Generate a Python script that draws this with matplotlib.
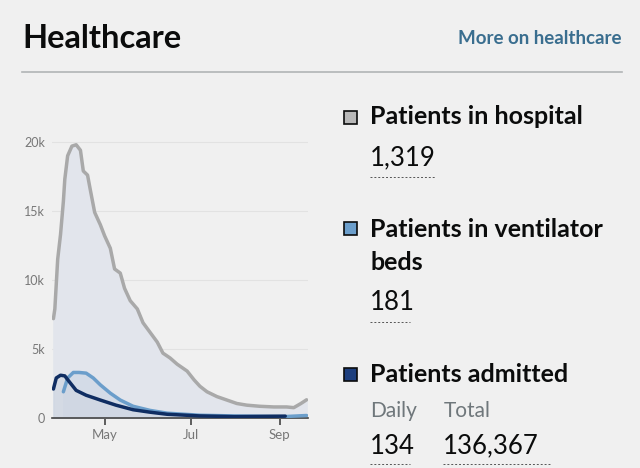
import matplotlib.pyplot as plt
import pandas as pd

# patients in hospital
hosp_dates = ["2020-03-26", "2020-03-27", "2020-03-29", "2020-03-31", "2020-04-02", "2020-04-03",
              "2020-04-05", "2020-04-08", "2020-04-11", "2020-04-14", "2020-04-16", "2020-04-19",
              "2020-04-21", "2020-04-24", "2020-04-28", "2020-05-01", "2020-05-05", "2020-05-08",
              "2020-05-12", "2020-05-15", "2020-05-19", "2020-05-24", "2020-05-28", "2020-06-02",
              "2020-06-07", "2020-06-11", "2020-06-16", "2020-06-21", "2020-06-28", "2020-07-03",
              "2020-07-07", "2020-07-12", "2020-07-19", "2020-07-26", "2020-08-02", "2020-08-09",
              "2020-08-18", "2020-08-28", "2020-09-06", "2020-09-11", "2020-09-16", "2020-09-20"]
hosp_vals = [7200, 7900, 11500, 13300, 15700, 17300, 19000, 19700, 19800, 19400, 17900, 17600,
             16500, 14900, 14000, 13200, 12300, 10800, 10500, 9400, 8500, 7900, 6900, 6200,
             5500, 4700, 4350, 3900, 3400, 2750, 2300, 1900, 1550, 1300, 1050, 930,
             850, 800, 800, 750, 1050, 1319]

# patients in ventilator beds
vent_dates = ["2020-04-02", "2020-04-05", "2020-04-09", "2020-04-13", "2020-04-18", "2020-04-23",
              "2020-04-28", "2020-05-05", "2020-05-12", "2020-05-21", "2020-06-02", "2020-06-14",
              "2020-07-07", "2020-07-31", "2020-09-04", "2020-09-20"]
vent_vals = [1900, 2900, 3300, 3300, 3250, 2900, 2400, 1800, 1300, 850, 550, 350,
             200, 150, 100, 181]

# patients admitted (daily)
adm_dates = ["2020-03-26", "2020-03-28", "2020-03-31", "2020-04-03", "2020-04-06", "2020-04-11",
             "2020-04-18", "2020-04-28", "2020-05-09", "2020-05-21", "2020-06-02", "2020-06-14",
             "2020-07-07", "2020-07-31", "2020-09-05"]
adm_vals = [2100, 2900, 3100, 3050, 2650, 2000, 1650, 1300, 930, 600, 420, 270,
            150, 100, 134]

month_ticks = ["2020-05-01", "2020-07-01", "2020-09-01"]
month_labels = ["May", "Jul", "Sep"]
y_ticks = [0, 5000, 10000, 15000, 20000]
y_labels = ["0", "5k", "10k", "15k", "20k"]

bg = "#f0f0f0"
c_hosp = "#a9a9a9"
c_vent = "#6b9ecb"
c_adm = "#0f2d62"

plt.rcParams['font.family'] = ['Lato', 'DejaVu Sans']
fig = plt.figure(figsize=(6.4, 4.68), dpi=100, facecolor=bg)
W, H = 640, 468

ax = fig.add_axes([52 / W, 1 - 418 / H, 256 / W, 289.8 / H])
ax.set_facecolor(bg)
ax.set_ylim(0, 21000)
ax.set_xlim(pd.Timestamp("2020-03-25"), pd.Timestamp("2020-09-21"))

hd = pd.to_datetime(hosp_dates)
vd = pd.to_datetime(vent_dates)
ad = pd.to_datetime(adm_dates)

ax.fill_between(hd, hosp_vals, color="#e2e5ec", zorder=1)
ax.fill_between(vd, vent_vals, color="#d3dbe7", zorder=2)
ax.fill_between(ad, adm_vals, color="#cfd6e2", alpha=0.7, zorder=2)
ax.plot(hd, hosp_vals, color=c_hosp, lw=2.5, zorder=4, solid_capstyle="round")
ax.plot(vd, vent_vals, color=c_vent, lw=2.5, zorder=5, solid_capstyle="round")
ax.plot(ad, adm_vals, color=c_adm, lw=2.5, zorder=6, solid_capstyle="round")

for s in ["top", "right", "left"]:
    ax.spines[s].set_visible(False)
ax.spines["bottom"].set_color("#444444")
ax.spines["bottom"].set_linewidth(1.2)
ax.set_yticks(y_ticks)
ax.set_yticklabels(y_labels)
ax.tick_params(axis="y", length=0, labelsize=9, labelcolor="#777777", pad=5)
ax.set_xticks(pd.to_datetime(month_ticks))
ax.set_xticklabels(month_labels)
ax.tick_params(axis="x", length=5, width=1.2, color="#444444", labelsize=9.5,
               labelcolor="#777777", pad=3)
ax.grid(axis="y", color="#e2e2e2", lw=0.8, zorder=0)
ax.set_axisbelow(True)

# header
fig.text(22 / W, 1 - 38 / H, "Healthcare", fontsize=23.5, fontweight="bold",
         color="#0b0c0c", va="center", ha="left")
fig.text(622 / W, 1 - 38 / H, "More on healthcare", fontsize=13.5, fontweight="bold",
         color="#3a6e8f", va="center", ha="right")
fig.add_artist(plt.Line2D([22 / W, 622 / W], [1 - 72 / H, 1 - 72 / H], color="#b1b4b6", lw=1.2))

# right panel
def square(y, color):
    fig.patches.append(plt.Rectangle((344 / W, 1 - (y + 6.5) / H), 13 / W, 13 / H,
                                     transform=fig.transFigure, facecolor=color,
                                     edgecolor="#0b0c0c", lw=1.2))

def underline(x0, x1, y):
    fig.add_artist(plt.Line2D([x0 / W, x1 / W], [1 - y / H, 1 - y / H],
                              color="#555555", lw=0.7, ls=(0, (2, 2))))

tx = 370
fs_head = 18
square(117, "#b8b8b8")
fig.text(tx / W, 1 - 117 / H, "Patients in hospital", fontsize=fs_head, fontweight="bold",
         color="#0b0c0c", va="center")
fig.text(tx / W, 1 - 158 / H, "1,319", fontsize=18.5, color="#0b0c0c", va="center")
underline(370, 435, 177)

square(228, c_vent)
fig.text(tx / W, 1 - 229 / H, "Patients in ventilator", fontsize=fs_head, fontweight="bold",
         color="#0b0c0c", va="center")
fig.text(tx / W, 1 - 263 / H, "beds", fontsize=fs_head, fontweight="bold",
         color="#0b0c0c", va="center")
fig.text(tx / W, 1 - 303 / H, "181", fontsize=18.5, color="#0b0c0c", va="center")
underline(370, 410, 322)

square(374, "#1d3f7e")
fig.text(tx / W, 1 - 374 / H, "Patients admitted", fontsize=fs_head, fontweight="bold",
         color="#0b0c0c", va="center")
fig.text(tx / W, 1 - 411 / H, "Daily", fontsize=15, color="#6f777b", va="center")
fig.text(444 / W, 1 - 411 / H, "Total", fontsize=15, color="#6f777b", va="center")
fig.text(tx / W, 1 - 446 / H, "134", fontsize=18.5, color="#0b0c0c", va="center")
fig.text(443 / W, 1 - 446 / H, "136,367", fontsize=18.5, color="#0b0c0c", va="center")
underline(370, 410, 464)
underline(443, 550, 464)

fig.savefig("out.png", dpi=100, facecolor=bg)
